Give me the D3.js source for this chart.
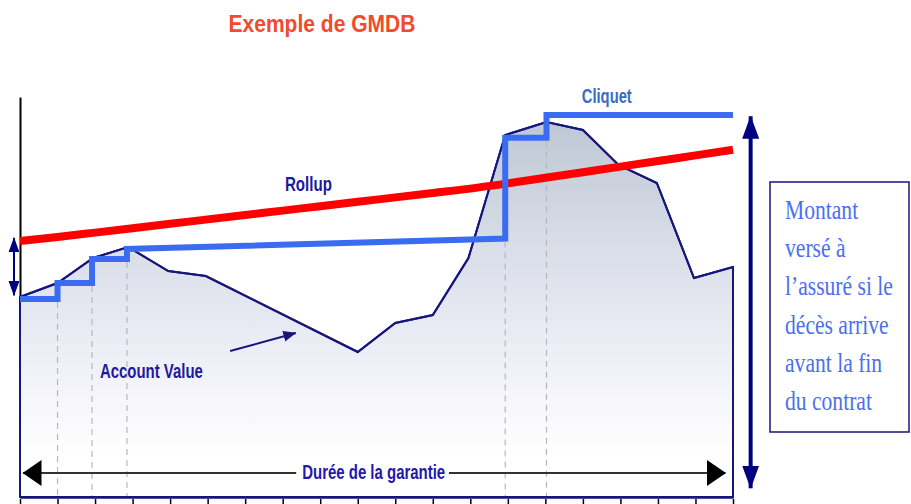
<!DOCTYPE html>
<html><head><meta charset="utf-8">
<script src="https://cdn.jsdelivr.net/npm/d3@7"></script>
<style>
html,body{margin:0;padding:0;background:#fff;}
svg{display:block;}
</style>
</head><body>
<svg id="c" width="911" height="504"></svg>
<script>
// ---- data ----
const years = d3.range(0, 20);                       // tick positions (contract years)
const accountX = [0, 1, 1.95, 2.88, 3.95, 4.95, 9, 10, 11, 11.95, 12.93, 14.03, 15, 15.95, 16.97, 17.96, 19];
const accountV = [50, 53.5, 59.75, 62.5, 56.5, 55.25, 36.25, 43.5, 45.5, 59.75, 90.5, 93.75, 91.75, 83, 78.5, 54.75, 57.5];
const cliquetX = [0, 1, 1, 1.92, 1.92, 2.85, 2.85, 12.93, 12.93, 14.03, 14.03, 19];
const cliquetV = [49.5, 49.5, 53.5, 53.5, 59.5, 59.5, 62, 64.6, 89.8, 89.8, 95.5, 95.5];
const rollupV  = [64, 65.0, 66.1, 67.2, 68.3, 69.4, 70.5, 71.6, 72.7, 73.8, 74.9, 76.0, 77.1, 78.4, 79.8, 81.2, 82.6, 84.0, 85.4, 86.8];
const resetX   = [1, 1.92, 2.85, 12.93, 14.03];          // cliquet lock-in dates
const resetV   = [49.5, 53.5, 59.5, 64.6, 89.8];          // level before lock-in
const title = "Exemple de GMDB";
const boxLines = ["Montant", "versé à", "l\u2019assuré si le", "décès arrive", "avant la fin", "du contrat"];

// ---- scales ----
const svg = d3.select("#c");
const x = d3.scaleLinear().domain([0, 19]).range([20, 733]);
const y = d3.scaleLinear().domain([0, 100]).range([497, 97]);

const NAVY = "#16167e";
const defs = svg.append("defs");
const grad = defs.append("linearGradient").attr("id", "g").attr("gradientUnits", "userSpaceOnUse")
  .attr("x1", 0).attr("x2", 0).attr("y1", y(96)).attr("y2", y(10));
grad.append("stop").attr("offset", 0).attr("stop-color", "#bcc6d3");
grad.append("stop").attr("offset", 0.45).attr("stop-color", "#dde1eb");
grad.append("stop").attr("offset", 0.75).attr("stop-color", "#f1f1f9");
grad.append("stop").attr("offset", 1).attr("stop-color", "#ffffff");

const arrowMarker = (id, color, w, h) => {
  defs.append("marker").attr("id", id).attr("viewBox", `0 0 ${w} ${h}`)
    .attr("refX", w - 0.5).attr("refY", h / 2).attr("markerWidth", w).attr("markerHeight", h)
    .attr("markerUnits", "userSpaceOnUse").attr("orient", "auto-start-reverse")
    .append("path").attr("d", `M0,0L${w},${h / 2}L0,${h}Z`).attr("fill", color);
};
arrowMarker("aBlack", "#000", 19, 26);
arrowMarker("aNavyBig", "#000080", 23, 17);
arrowMarker("aNavySmall", "#000080", 15, 11);
arrowMarker("aPtr", NAVY, 13, 11);

// title
svg.append("text").attr("x", 322).attr("y", 32).attr("text-anchor", "middle")
  .attr("font-family", "Liberation Sans, Arial, sans-serif").attr("font-weight", "bold")
  .attr("font-size", 23).attr("fill", "#f24a2c")
  .attr("textLength", 187).attr("lengthAdjust", "spacingAndGlyphs").text(title);

// left axis (black)
svg.append("g").attr("transform", `translate(${x(0)},0)`)
  .call(d3.axisLeft(y).ticks(0).tickSizeOuter(0))
  .call(g => g.select(".domain").attr("stroke", "#000").attr("stroke-width", 2));

// area
const area = d3.area().x((d, i) => x(accountX[i])).y0(y(0)).y1(d => y(d));
svg.append("path").datum(accountV).attr("d", area).attr("fill", "url(#g)")
  .attr("stroke", NAVY).attr("stroke-width", 2).attr("stroke-linejoin", "miter");

// dashed reset lines
svg.append("g").selectAll("line").data(resetX).join("line")
  .attr("x1", d => x(d)).attr("x2", d => x(d))
  .attr("y1", (d, i) => y(resetV[i]) + 3).attr("y2", y(0) - 1)
  .attr("stroke", "#b8b8b8").attr("stroke-width", 1.2).attr("stroke-dasharray", "6,5");

// bottom axis
svg.append("g").attr("transform", `translate(0,${y(0)})`)
  .call(d3.axisBottom(x).tickValues(years).tickSize(9).tickSizeOuter(0).tickFormat(""))
  .call(g => g.select(".domain").attr("stroke", NAVY).attr("stroke-width", 2.5))
  .call(g => g.selectAll(".tick line").attr("stroke", "#000").attr("stroke-width", 1.5).attr("y1", 2));

// re-draw account line on top
const line = d3.line().x((d, i) => x(accountX[i])).y(d => y(d));
svg.append("path").datum(accountV).attr("d", line).attr("fill", "none")
  .attr("stroke", NAVY).attr("stroke-width", 2);

// rollup
const rline = d3.line().x((d, i) => x(years[i])).y(d => y(d)).curve(d3.curveMonotoneX);
svg.append("path").datum(rollupV).attr("d", rline).attr("fill", "none")
  .attr("stroke", "#ff0000").attr("stroke-width", 8);

// cliquet
const cline = d3.line().x((d, i) => x(cliquetX[i])).y(d => y(d));
svg.append("path").datum(cliquetV).attr("d", cline).attr("fill", "none")
  .attr("stroke", "#3a6cf2").attr("stroke-width", 6).attr("stroke-linejoin", "miter");

// labels
const lab = (t, xv, yv, w, color, fs) => svg.append("text").attr("x", x(xv)).attr("y", y(yv))
  .attr("font-family", "Liberation Sans Narrow, Arial Narrow, Liberation Sans, sans-serif")
  .attr("font-weight", "bold").attr("font-size", fs).attr("fill", color)
  .attr("textLength", w).attr("lengthAdjust", "spacingAndGlyphs").text(t);
lab("Cliquet", 14.97, 98.6, 50, "#3a6cc2", 20);
lab("Rollup", 7.06, 76.6, 47, "#1e1a9c", 20);
lab("Account Value", 2.13, 29.7, 103, "#1e1a9c", 20);
lab("Durée de la garantie", 7.52, 4.6, 143, "#2318b0", 20);

// Account Value pointer
svg.append("line").attr("x1", x(5.6)).attr("y1", y(36.5)).attr("x2", x(7.35)).attr("y2", y(41))
  .attr("stroke", NAVY).attr("stroke-width", 2).attr("marker-end", "url(#aPtr)");

// horizontal duration arrow (split around the label)
svg.append("line").attr("x1", x(0.08)).attr("x2", x(7.36)).attr("y1", y(6)).attr("y2", y(6))
  .attr("stroke", "#333").attr("stroke-width", 2).attr("marker-start", "url(#aBlack)");
svg.append("line").attr("x1", x(11.43)).attr("x2", x(18.8)).attr("y1", y(6)).attr("y2", y(6))
  .attr("stroke", "#333").attr("stroke-width", 2).attr("marker-end", "url(#aBlack)");

// right vertical arrow
svg.append("line").attr("x1", x(19.47)).attr("x2", x(19.47)).attr("y1", y(95.2)).attr("y2", y(2.2))
  .attr("stroke", "#000080").attr("stroke-width", 4)
  .attr("marker-start", "url(#aNavyBig)").attr("marker-end", "url(#aNavyBig)");

// left small arrow
svg.append("line").attr("x1", x(-0.16)).attr("x2", x(-0.16)).attr("y1", y(64.8)).attr("y2", y(50.4))
  .attr("stroke", "#000080").attr("stroke-width", 2)
  .attr("marker-start", "url(#aNavySmall)").attr("marker-end", "url(#aNavySmall)");

// text box
svg.append("rect").attr("x", 770).attr("y", 182).attr("width", 139).attr("height", 250)
  .attr("fill", "#fff").attr("stroke", NAVY).attr("stroke-width", 1.5);
const tb = svg.append("g");
boxLines.forEach((t, i) => {
  tb.append("text").attr("transform", `translate(785,${219 + i * 38.2}) scale(0.8,1)`)
    .attr("font-family", "Liberation Serif, Times New Roman, serif").attr("font-size", 27)
    .attr("fill", "#4b6ff0").text(t);
});
</script>
</body></html>
